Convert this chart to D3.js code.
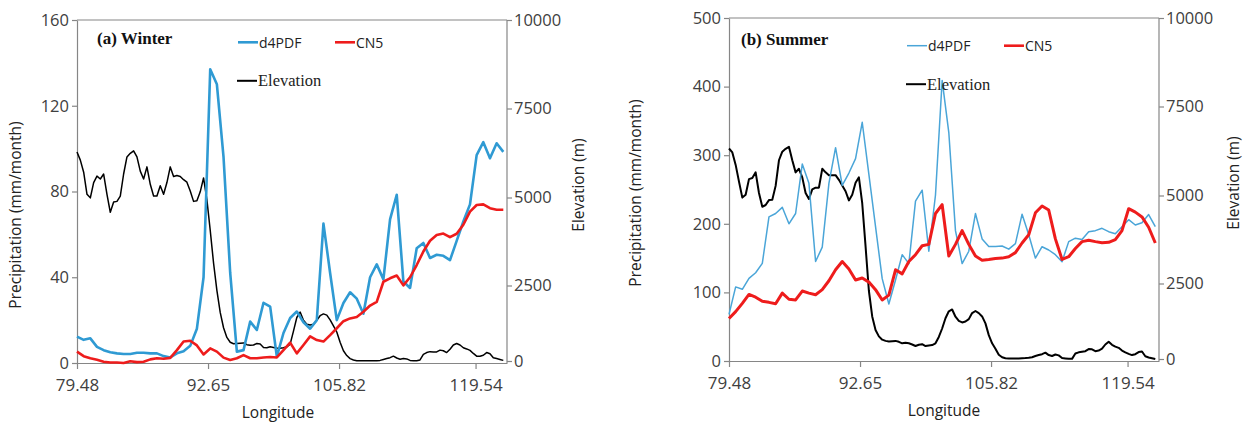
<!DOCTYPE html>
<html>
<head>
<meta charset="utf-8">
<script src="https://cdn.jsdelivr.net/npm/d3@7"></script>
<style>
  body { margin: 0; background: #fff; }
  svg { display: block; }
</style>
</head>
<body>
<script>
// values
var lonTicks = [79.48, 92.65, 105.82, 119.54];
var lonMin = 79.48, lonMax = 122.7;
var precipStep = 0.6695;   // spacing of the precipitation grid (deg)
var elevStep = 0.33475;    // spacing of the elevation profile (deg)

var precipTicksWinter = [0, 40, 80, 120, 160];
var precipTicksSummer = [0, 100, 200, 300, 400, 500];
var elevTicks = [0, 2500, 5000, 7500, 10000];

var winterD4PDF = [12.3, 10.8, 11.5, 7.5, 6.0, 5.0, 4.5, 4.2, 4.2, 4.8,
  4.8, 4.5, 4.5, 3.2, 2.6, 4.5, 5.5, 8.0, 16, 40,
  137, 130, 96, 42, 5.3, 6.0, 19.3, 15.4, 28.1, 26.3,
  3.0, 14, 21, 24, 19, 16, 20, 65, 42, 20,
  28, 33, 30, 23, 40, 46, 39, 67, 78.5, 38,
  35, 53.5, 56, 49, 50.5, 50, 48, 57, 66, 74,
  97, 103, 95.5, 102.5, 98.5];

var winterCN5 = [5.3, 3.2, 2.2, 1.5, 0.6, 0.2, 0.2, 0, 0.8, 0.4,
  0.6, 1.7, 2.2, 2.0, 2.4, 6.0, 10.0, 10.4, 8.2, 4.0,
  6.8, 5.3, 2.5, 1.4, 2.2, 3.7, 2.2, 2.2, 2.6, 2.8,
  2.6, 6.0, 9.5, 4.5, 8.4, 12.4, 10.7, 10.0, 13.0, 16.2,
  19.5, 20.8, 21.5, 23.9, 26.8, 28.5, 37.9, 39.5, 40.8, 36.2,
  40.0, 45.7, 52.0, 57.0, 59.7, 60.4, 58.7, 60.3, 64.5, 70.6,
  73.7, 74.0, 72.2, 71.5, 71.5];

var winterElev = [6280, 6050, 5710, 5090, 4990, 5420, 5600, 5520, 5660, 5090,
  4580, 4870, 4890, 5040, 5660, 6140, 6240, 6310, 6140, 5740,
  5520, 5860, 5370, 5040, 5040, 5330, 5090, 5420, 5860, 5590,
  5620, 5590, 5500, 5430, 5180, 4890, 4910, 5160, 5550, 4940,
  4070, 3140, 2340, 1610, 1100, 780, 620, 570, 580, 590,
  600, 540, 520, 530, 580, 560, 450, 440, 470, 450,
  430, 420, 440, 470, 560, 990, 1440, 1620, 1350, 1220,
  1190, 1220, 1350, 1500, 1560, 1520, 1360, 1160, 960, 620,
  340, 180, 80, 35, 10, 10, 10, 10, 10, 10,
  10, 20, 50, 80, 110, 160, 100, 60, 80, 70,
  20, 10, 10, 35, 220, 280, 310, 300, 300, 360,
  340, 280, 390, 530, 580, 530, 440, 400, 350, 250,
  160, 160, 190, 280, 240, 110, 80, 50, 20];

var summerD4PDF = [68, 108, 104.5, 120.5, 128.7, 142.4, 210, 215, 224, 200,
  215, 287, 259, 145, 166, 259, 311, 256, 274, 295,
  348, 272, 196, 120, 83, 118, 155, 142, 233, 249,
  160, 242, 409, 333, 190, 142, 160, 215, 178, 167,
  167, 167.6, 163, 171, 214, 184, 150, 166.6, 161.8, 155,
  144.8, 174, 179, 177, 188.5, 190, 193.4, 188.5, 185.5, 195.8,
  206, 198.2, 201.6, 213.5, 195.8];

var summerCN5 = [62, 72, 84, 97, 93, 87, 85.5, 83.5, 99, 90,
  89, 102, 99, 96.5, 104, 117, 133, 145, 134, 118,
  121, 115, 104, 89, 96, 133, 127, 145, 155, 168,
  170, 215, 228, 153, 170, 190, 170, 153, 147, 148,
  149.5, 150, 152, 158, 172, 184, 216, 226, 220, 178,
  148, 152, 164, 174, 176, 174, 172.5, 173, 177, 190,
  222, 217, 210, 195, 172];

var summerElev = [6320, 6210, 5860, 5390, 4940, 5020, 5460, 5490, 5650, 5070,
  4680, 4730, 4870, 4880, 5270, 5990, 6230, 6310, 6370, 5990,
  5650, 5750, 5510, 5070, 4900, 5170, 5220, 5220, 5750, 5650,
  5570, 5570, 5570, 5440, 5280, 5120, 4860, 5020, 5360, 5510,
  4780, 3560, 2260, 1410, 960, 750, 640, 600, 580, 590,
  600, 570, 520, 540, 520, 480, 430, 470, 490, 430,
  450, 460, 520, 730, 1010, 1350, 1580, 1640, 1400, 1260,
  1210, 1240, 1320, 1520, 1590, 1520, 1410, 1180, 790, 520,
  340, 140, 60, 25, 20, 20, 20, 20, 25, 30,
  40, 60, 100, 130, 160, 210, 130, 100, 150, 120,
  35, 20, 5, 5, 180, 220, 240, 260, 330, 320,
  260, 280, 340, 480, 570, 470, 410, 370, 280, 220,
  170, 130, 160, 230, 250, 90, 50, 25, 0];

var W = 1251, H = 422;
var axisColor = "#868686", textColor = "#404040";
var sans = "'Open Sans', 'Noto Sans', sans-serif";
var serif = "'Liberation Serif', 'DejaVu Serif', serif";
// pixel offsets of the elevation ticks below the frame top, as spaced in the source figure
var elevTickPos = [341, 265.5, 177.5, 88.5, 0];

var svg = d3.select("body").append("svg")
    .attr("width", W)
    .attr("height", H)
    .style("background", "#fff");

function toPoints(values, step) {
  return values.map(function(v, i) { return {lon: lonMin + i * step, v: v}; });
}

function drawPanel(cfg) {
  var g = svg.append("g")
      .attr("transform", "translate(" + cfg.left + "," + cfg.top + ")");
  var w = cfg.width, h = cfg.height;

  var x = d3.scaleLinear().domain([lonMin, lonMax]).range([0, w]);
  var y = d3.scaleLinear().domain([0, cfg.precipMax]).range([h, 0]);
  var yE = d3.scaleLinear().domain(elevTicks).range(elevTickPos);

  // frame top
  g.append("line")
      .attr("x1", 0).attr("x2", w).attr("y1", 0).attr("y2", 0)
      .attr("stroke", axisColor).attr("stroke-width", 1.2);

  var xAxis = d3.axisBottom(x).tickValues(lonTicks)
      .tickFormat(function(d) { return d.toFixed(2); })
      .tickSize(6).tickSizeOuter(0).tickPadding(10);
  var yAxis = d3.axisLeft(y).tickValues(cfg.precipTicks)
      .tickSize(5).tickSizeOuter(0).tickPadding(3);
  var yEAxis = d3.axisRight(yE).tickValues(elevTicks)
      .tickFormat(function(d) { return String(d); })
      .tickSize(5).tickSizeOuter(0).tickPadding(2);

  var gx = g.append("g").attr("transform", "translate(0," + h + ")").call(xAxis);
  var gy = g.append("g").call(yAxis);
  var gyE = g.append("g").attr("transform", "translate(" + w + ",0)").call(yEAxis);
  // right axis line runs the full frame height
  gyE.select(".domain").attr("d", "M0,0V" + h);

  [gx, gy, gyE].forEach(function(a) {
    a.select(".domain").attr("stroke", axisColor).attr("stroke-width", 1.2);
    a.selectAll(".tick line").attr("stroke", axisColor).attr("stroke-width", 1.2);
    a.selectAll(".tick text")
        .attr("fill", textColor)
        .style("font-family", sans)
        .style("font-size", "16.5px");
  });
  gx.selectAll(".tick text").style("font-size", "17px");

  // series
  var line = d3.line()
      .x(function(d) { return x(d.lon); })
      .y(function(d) { return y(d.v); });
  var lineE = d3.line()
      .x(function(d) { return x(d.lon); })
      .y(function(d) { return yE(d.v); });

  g.append("path")
      .datum(toPoints(cfg.elev, elevStep))
      .attr("fill", "none")
      .attr("stroke", "#000")
      .attr("stroke-width", cfg.elevWidth)
      .attr("stroke-linejoin", "round")
      .attr("d", lineE);

  g.append("path")
      .datum(toPoints(cfg.d4pdf, precipStep))
      .attr("fill", "none")
      .attr("stroke", cfg.blue)
      .attr("stroke-width", cfg.blueWidth)
      .attr("stroke-linejoin", "round")
      .attr("d", line);

  g.append("path")
      .datum(toPoints(cfg.cn5, precipStep))
      .attr("fill", "none")
      .attr("stroke", "#ee1c1c")
      .attr("stroke-width", cfg.redWidth)
      .attr("stroke-linejoin", "round")
      .attr("d", line);

  // axis titles
  g.append("text")
      .attr("x", w / 2 + cfg.xTitleShift).attr("y", h + 55)
      .attr("text-anchor", "middle")
      .attr("fill", "#222")
      .style("font-family", sans).style("font-size", "15.5px")
      .text("Longitude");

  g.append("text")
      .attr("transform", "translate(" + cfg.yTitleX + "," + cfg.yTitleY + ") rotate(-90)")
      .attr("text-anchor", "middle")
      .attr("dominant-baseline", "middle")
      .attr("fill", "#222")
      .style("font-family", sans).style("font-size", "15.5px")
      .text("Precipitation (mm/month)");

  g.append("text")
      .attr("transform", "translate(" + (w + cfg.eTitleX) + "," + cfg.eTitleY + ") rotate(-90)")
      .attr("text-anchor", "middle")
      .attr("dominant-baseline", "middle")
      .attr("fill", "#222")
      .style("font-family", sans).style("font-size", "15.5px")
      .text("Elevation (m)");

  // panel label
  g.append("text")
      .attr("x", cfg.labelX).attr("y", cfg.labelY)
      .attr("fill", "#111")
      .style("font-family", serif).style("font-size", "17px")
      .style("font-weight", "bold")
      .text(cfg.label);

  // legend
  var leg = [
    {name: "d4PDF", color: cfg.blue, width: cfg.blueWidth, x: cfg.legX, y: cfg.legY, font: sans, size: "14px"},
    {name: "CN5", color: "#ee1c1c", width: 2.6, x: cfg.legX + 97, y: cfg.legY, font: sans, size: "14px"},
    {name: "Elevation", color: "#000", width: 2, x: cfg.legX - 1, y: cfg.legY + 38.5, font: serif, size: "16.5px"}
  ];
  leg.forEach(function(d) {
    g.append("line")
        .attr("x1", d.x).attr("x2", d.x + 20)
        .attr("y1", d.y).attr("y2", d.y)
        .attr("stroke", d.color).attr("stroke-width", d.width);
    g.append("text")
        .attr("x", d.x + 21).attr("y", d.y)
        .attr("dominant-baseline", "central")
        .attr("fill", "#222")
        .style("font-family", d.font).style("font-size", d.size)
        .text(d.name);
  });
}

drawPanel({
  left: 77, top: 20, width: 430, height: 343,
  precipMax: 160, precipTicks: precipTicksWinter,
  d4pdf: winterD4PDF, cn5: winterCN5, elev: winterElev,
  blue: "#2f9ad3", blueWidth: 2.6, redWidth: 2.6, elevWidth: 1.5,
  label: "(a) Winter", labelX: 20, labelY: 23.5,
  legX: 161, legY: 22.3,
  xTitleShift: -14, yTitleX: -60, yTitleY: 195,
  eTitleX: 73, eTitleY: 165
});

drawPanel({
  left: 729, top: 18, width: 430, height: 343,
  precipMax: 500, precipTicks: precipTicksSummer,
  d4pdf: summerD4PDF, cn5: summerCN5, elev: summerElev,
  blue: "#4aa5d8", blueWidth: 1.5, redWidth: 3, elevWidth: 2,
  label: "(b) Summer", labelX: 12, labelY: 27,
  legX: 178, legY: 27.7,
  xTitleShift: 0, yTitleX: -92, yTitleY: 175,
  eTitleX: 76, eTitleY: 165
});
</script>
</body>
</html>
